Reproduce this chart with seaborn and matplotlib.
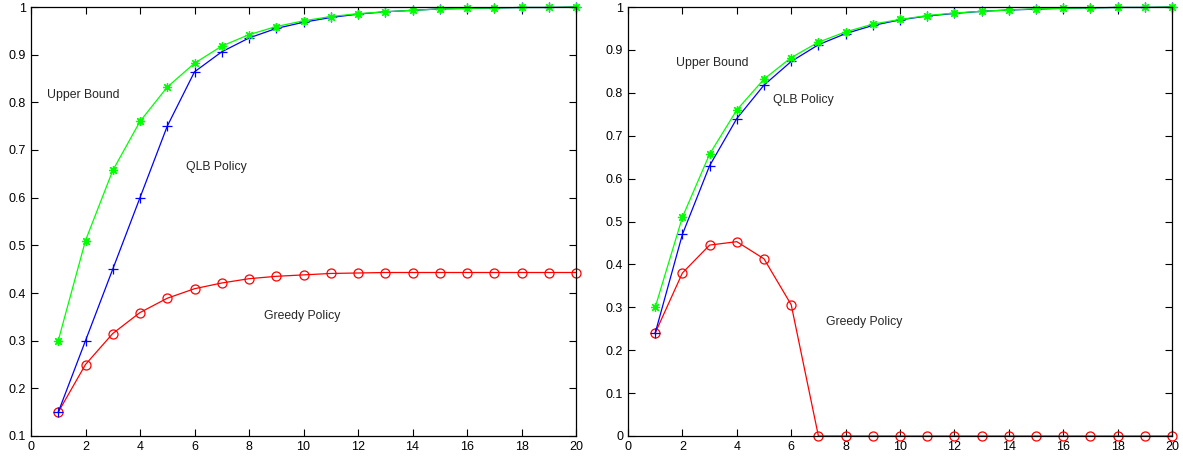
import matplotlib
matplotlib.use("Agg")
import matplotlib.pyplot as plt
import seaborn as sns
import numpy as np
import pandas as pd
from matplotlib.ticker import FuncFormatter

# ---- data ----
n_values = list(range(1, 21))

left_upper = [0.30, 0.51, 0.657, 0.76, 0.832, 0.882, 0.918, 0.942, 0.959, 0.971,
              0.980, 0.986, 0.990, 0.993, 0.996, 0.997, 0.998, 0.999, 0.999, 1.0]
left_qlb = [0.15, 0.30, 0.45, 0.60, 0.75, 0.864, 0.906, 0.935, 0.955, 0.968,
            0.978, 0.985, 0.990, 0.993, 0.996, 0.997, 0.998, 0.999, 0.999, 1.0]
left_greedy = [0.15, 0.25, 0.315, 0.359, 0.389, 0.409, 0.421, 0.430, 0.435, 0.438,
               0.441, 0.442, 0.443, 0.443, 0.443, 0.443, 0.443, 0.443, 0.443, 0.443]

right_upper = [0.30, 0.51, 0.657, 0.76, 0.832, 0.882, 0.918, 0.942, 0.960, 0.971,
               0.980, 0.986, 0.990, 0.993, 0.996, 0.997, 0.998, 0.999, 0.999, 1.0]
right_qlb = [0.24, 0.47, 0.63, 0.74, 0.818, 0.873, 0.912, 0.938, 0.957, 0.970,
             0.979, 0.985, 0.990, 0.993, 0.995, 0.997, 0.998, 0.999, 0.999, 1.0]
right_greedy = [0.24, 0.38, 0.445, 0.453, 0.413, 0.306, 0.0, 0.0, 0.0, 0.0,
                0.0, 0.0, 0.0, 0.0, 0.0, 0.0, 0.0, 0.0, 0.0, 0.0]

label_upper = "Upper Bound"
label_qlb = "QLB Policy"
label_greedy = "Greedy Policy"

sns.set_style("ticks")
plt.rcParams['font.family'] = ['Liberation Sans', 'DejaVu Sans']
FS = 8.8

W, H = 1183, 459
fig = plt.figure(figsize=(W / 100, H / 100), dpi=100)
ax1 = fig.add_axes([31 / W, 23 / H, 545 / W, 429 / H])
ax2 = fig.add_axes([628 / W, 23 / H, 544 / W, 429 / H])

asterisk = (8, 2, 0)


def draw(ax, upper, qlb, greedy):
    df = pd.DataFrame({"n": n_values, "upper": upper, "qlb": qlb, "greedy": greedy})
    common = dict(linewidth=0.9, markeredgewidth=0.9, clip_on=False)
    sns.lineplot(data=df, x="n", y="greedy", ax=ax, color=(1, 0, 0), marker="o",
                 markersize=6.5, markerfacecolor="none", markeredgecolor=(1, 0, 0), **common)
    sns.lineplot(data=df, x="n", y="qlb", ax=ax, color=(0, 0, 1), marker="+",
                 markersize=7, markeredgecolor=(0, 0, 1), **common)
    sns.lineplot(data=df, x="n", y="upper", ax=ax, color=(0, 1, 0), marker=asterisk,
                 markersize=6.5, markeredgecolor=(0, 1, 0), **common)
    ax.set_xlabel("")
    ax.set_ylabel("")
    ax.set_xlim(0, 20)
    ax.set_xticks(range(0, 21, 2))
    for s in ax.spines.values():
        s.set_visible(True)
        s.set_color("black")
        s.set_linewidth(0.9)
    ax.tick_params(direction="in", top=True, right=True, length=5, width=0.8,
                   labelsize=9, colors="black", pad=3.5)
    ax.yaxis.set_major_formatter(FuncFormatter(lambda v, p: f"{v:g}"))
    ax.xaxis.set_major_formatter(FuncFormatter(lambda v, p: f"{v:g}"))
    ax.grid(False)


draw(ax1, left_upper, left_qlb, left_greedy)
ax1.set_ylim(0.1, 1.0)
ax1.set_yticks(np.round(np.arange(0.1, 1.01, 0.1), 1))
ax1.text(0.59, 0.815, label_upper, fontsize=FS, va="center", ha="left")
ax1.text(5.69, 0.664, label_qlb, fontsize=FS, va="center", ha="left")
ax1.text(8.55, 0.352, label_greedy, fontsize=FS, va="center", ha="left")

draw(ax2, right_upper, right_qlb, right_greedy)
ax2.set_ylim(0.0, 1.0)
ax2.set_yticks(np.round(np.arange(0.0, 1.01, 0.1), 1))
ax2.text(1.76, 0.869, label_upper, fontsize=FS, va="center", ha="left")
ax2.text(5.33, 0.783, label_qlb, fontsize=FS, va="center", ha="left")
ax2.text(7.28, 0.266, label_greedy, fontsize=FS, va="center", ha="left")

fig.savefig("out.png", dpi=100)
